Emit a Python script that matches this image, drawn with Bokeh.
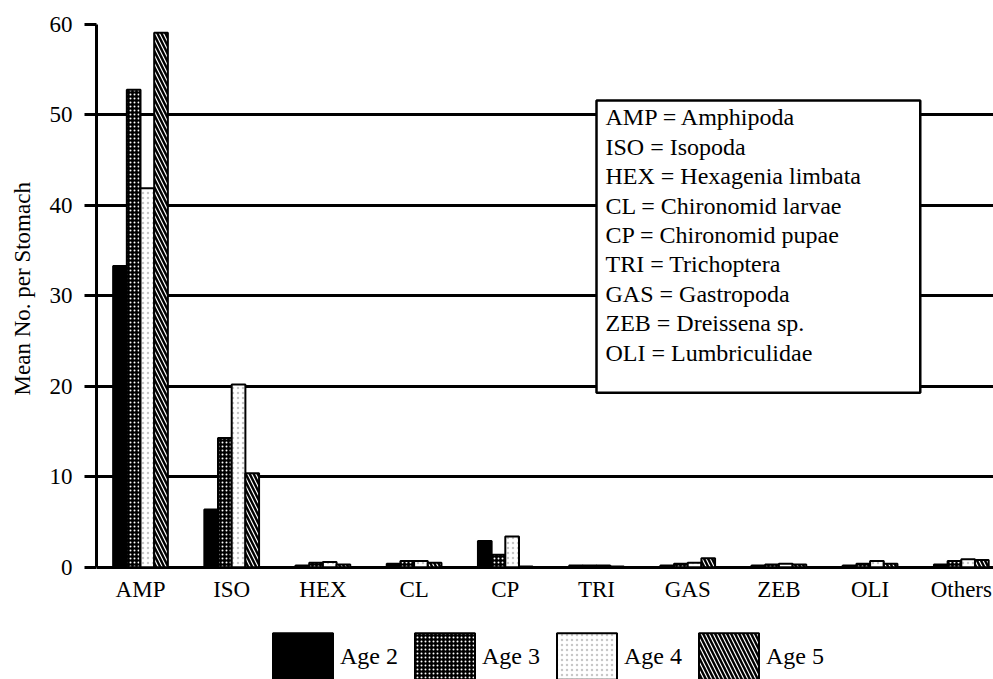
from bokeh.plotting import figure
from bokeh.models import ColumnDataSource, FixedTicker, BoxAnnotation, Label, Legend
from bokeh.core.properties import value
from bokeh.transform import dodge
from bokeh.embed import file_html
from bokeh.resources import INLINE

categories = ["AMP", "ISO", "HEX", "CL", "CP", "TRI", "GAS", "ZEB", "OLI", "Others"]
age2 = [33.3, 6.4, 0.2, 0.4, 2.9, 0.2, 0.2, 0.2, 0.2, 0.3]
age3 = [52.8, 14.3, 0.5, 0.7, 1.4, 0.2, 0.4, 0.3, 0.4, 0.7]
age4 = [41.9, 20.2, 0.6, 0.7, 3.4, 0.2, 0.5, 0.4, 0.7, 0.9]
age5 = [59.1, 10.4, 0.3, 0.5, 0.1, 0.1, 1.0, 0.3, 0.4, 0.8]
series_names = ["Age 2", "Age 3", "Age 4", "Age 5"]
y_ticks = [0, 10, 20, 30, 40, 50, 60]
key_lines = [
    "AMP = Amphipoda",
    "ISO = Isopoda",
    "HEX = Hexagenia limbata",
    "CL = Chironomid larvae",
    "CP = Chironomid pupae",
    "TRI = Trichoptera",
    "GAS = Gastropoda",
    "ZEB = Dreissena sp.",
    "OLI = Lumbriculidae",
]

FONT = "Liberation Serif"

src = ColumnDataSource(dict(
    x=list(range(len(categories))),
    cat=categories,
    zero=[0] * len(categories),
    age2=age2, age3=age3, age4=age4, age5=age5,
))

p = figure(
    width=993, height=679,
    x_range=(-0.4825, 9.353), y_range=(-12.4, 60),
    output_backend="svg", toolbar_location=None,
    min_border_left=96, min_border_right=0, min_border_top=24, min_border_bottom=0,
)
p.outline_line_color = None
p.background_fill_color = "white"
p.border_fill_color = "white"

# grid (the 0 line doubles as the category axis line)
p.xgrid.grid_line_color = None
p.ygrid.grid_line_color = "black"
p.ygrid.grid_line_width = 3
p.ygrid.ticker = FixedTicker(ticks=y_ticks)

# y axis
p.yaxis.ticker = FixedTicker(ticks=y_ticks)
p.yaxis.bounds = (0, 60)
p.yaxis.axis_line_width = 3
p.yaxis.major_tick_line_width = 3
p.yaxis.major_tick_out = 12
p.yaxis.major_tick_in = 0
p.yaxis.minor_tick_line_color = None
p.yaxis.major_label_text_font = FONT
p.yaxis.major_label_text_font_size = "23px"
p.yaxis.major_label_text_color = "black"
p.yaxis.major_label_standoff = 12
# leading no-break spaces shift the title up so it is centred on the 0-60 span
p.yaxis.axis_label = "\u00a0" * 22 + "Mean No. per Stomach"
p.yaxis.axis_label_text_font = FONT
p.yaxis.axis_label_text_font_style = "normal"
p.yaxis.axis_label_text_font_size = "23px"
p.yaxis.axis_label_text_color = "black"
p.yaxis.axis_label_standoff = 12

# x axis hidden; category names drawn as text at y = 0
p.xaxis.visible = False
p.text(x="x", y="zero", text="cat", source=src, y_offset=10,
       text_align="center", text_baseline="top",
       text_font=value(FONT), text_font_size="23px", text_color="black")

w = 0.15
styles = [
    dict(fill_color="black"),
    dict(fill_color="black", hatch_pattern="dot", hatch_color="white", hatch_scale=4, hatch_weight=2),
    dict(fill_color="white", hatch_pattern="dot", hatch_color="#c8c8c8", hatch_scale=5, hatch_weight=1),
    dict(fill_color="black", hatch_pattern="left_diagonal_line", hatch_color="white", hatch_scale=8, hatch_weight=1.2),
]
offsets = [-0.225, -0.075, 0.075, 0.225]
cols = ["age2", "age3", "age4", "age5"]
renderers = []
for col, off, st, name in zip(cols, offsets, styles, series_names):
    r = p.vbar(x=dodge("x", off), top=col, width=w, source=src,
               line_color="black", line_width=2, **st)
    renderers.append((name, r))

legend = Legend(
    items=[(n, [r]) for n, r in renderers],
    orientation="horizontal",
    location=(169, -6),
    glyph_width=75, glyph_height=58,
    label_standoff=0, label_width=60, spacing=7,
    padding=0, margin=0,
    border_line_color=None, background_fill_alpha=0,
    label_text_font=FONT, label_text_font_size="24px",
    label_text_color="black",
)
p.add_layout(legend)

# key box
box = BoxAnnotation(left=5.0, right=8.55, top=51.6, bottom=19.3,
                    fill_color="white", fill_alpha=1.0,
                    line_color="black", line_alpha=1.0, line_width=2.5)
p.add_layout(box)
key = Label(x=5.0, y=51.6, text="\n".join(key_lines),
            anchor="top_left", x_offset=9, y_offset=-4,
            text_font=FONT, text_font_size="24px", text_line_height=1.13,
            text_color="black")
p.add_layout(key)

open("out.html", "w").write(file_html(p, INLINE))
